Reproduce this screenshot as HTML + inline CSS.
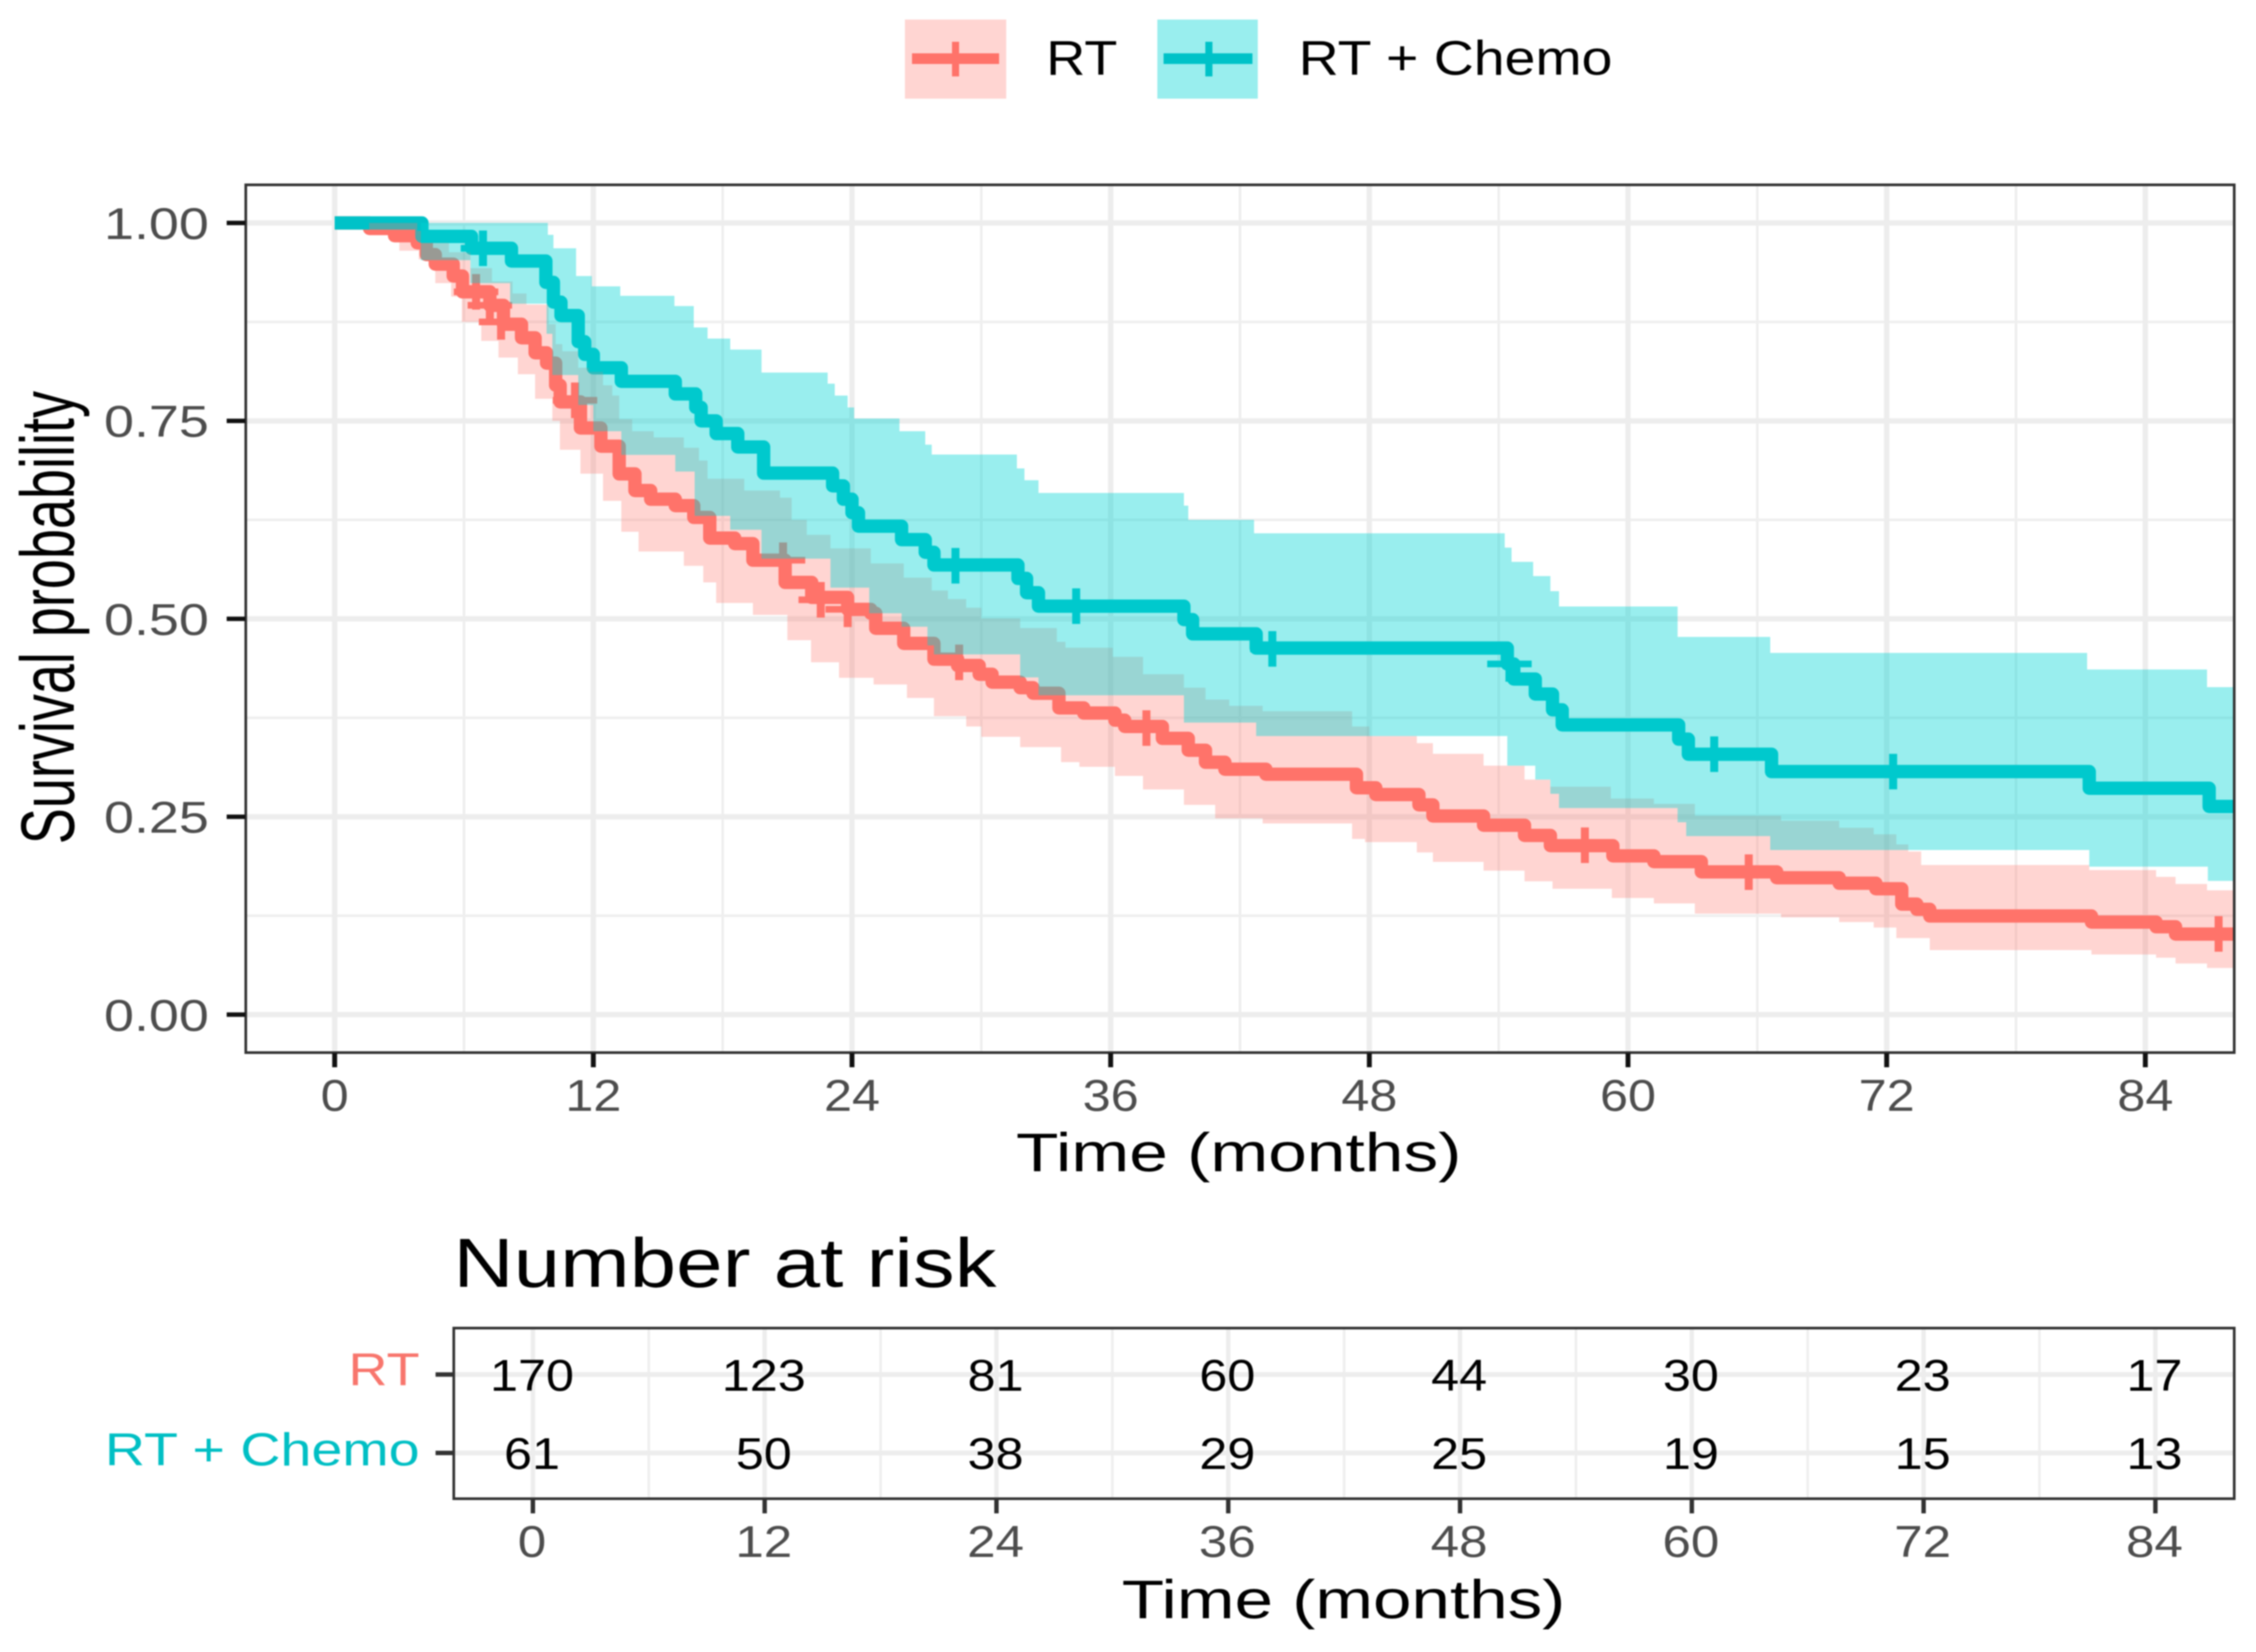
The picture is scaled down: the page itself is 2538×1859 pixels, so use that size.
<!DOCTYPE html>
<html lang="en">
<head>
<meta charset="utf-8">
<title>Survival curves: RT vs RT + Chemo</title>
<style>
html,body{margin:0;padding:0;background:#fff;}
svg{display:block;filter:blur(0.7px);}
text{font-family:"Liberation Sans",Arial,sans-serif;}
</style>
</head>
<body>
<svg id="figure" xmlns="http://www.w3.org/2000/svg" width="2538" height="1859" viewBox="0 0 2538 1859">
  <rect x="0" y="0" width="2538" height="1859" fill="#fff"/>
  <defs><clipPath id="panel-clip"><rect x="277" y="208" width="2236" height="976"/></clipPath></defs>

  <g>
    <g>
      <rect x="1018" y="22" width="114" height="89" fill="#FFD5D2"/>
      <rect x="1026" y="60" width="98" height="12" fill="#FF736A"/>
      <rect x="1071" y="47" width="8" height="39" fill="#FF736A"/>
      <text x="1177" y="84" font-size="55" fill="#000" textLength="80" lengthAdjust="spacingAndGlyphs">RT</text>
    </g>
    <g>
      <rect x="1302" y="22" width="113" height="89" fill="#99EEEE"/>
      <rect x="1309" y="60" width="100" height="12" fill="#00C2C8"/>
      <rect x="1356" y="47" width="8" height="39" fill="#00C2C8"/>
      <text x="1461" y="84" font-size="55" fill="#000" textLength="353" lengthAdjust="spacingAndGlyphs">RT + Chemo</text>
    </g>
  </g>

  <g id="survival-plot"></g>
  <text transform="translate(83,950) rotate(-90)" font-size="85" fill="#000" textLength="510" lengthAdjust="spacingAndGlyphs">Survival probability</text>
  <text x="1143" y="1318" font-size="61" fill="#000" textLength="501" lengthAdjust="spacingAndGlyphs">Time (months)</text>

  <text x="510" y="1448" font-size="78" fill="#000" textLength="611" lengthAdjust="spacingAndGlyphs">Number at risk</text>
  <g id="risk-table"></g>
  <text x="392" y="1559" font-size="52" fill="#F8766D" textLength="80" lengthAdjust="spacingAndGlyphs">RT</text>
  <text x="118" y="1649" font-size="52" fill="#00BFC4" textLength="354" lengthAdjust="spacingAndGlyphs">RT + Chemo</text>
  <text x="1262" y="1821" font-size="61" fill="#000" textLength="499" lengthAdjust="spacingAndGlyphs">Time (months)</text>
</svg>

<script>
// ---------- data ----------
const monthTicks = [0, 12, 24, 36, 48, 60, 72, 84];
const monthMinorTicks = [6, 18, 30, 42, 54, 66, 78];
const survTicks = [0, 0.25, 0.5, 0.75, 1];
const survTickLabels = ['0.00', '0.25', '0.50', '0.75', '1.00'];
const survMinorTicks = [0.125, 0.375, 0.625, 0.875];

const rtTimes = [0,1.62,2.78,3.83,4.25,4.67,5.5,5.93,7.2,7.83,8.67,9.3,9.83,10.25,10.46,11.4,12.35,13.2,13.93,14.66,15.8,16.66,17.4,18.56,19.4,20.9,22.13,23.8,24.87,25.1,26.4,27.8,28.9,29.9,30.5,31.8,32.4,33.6,34.75,36.2,36.65,38.4,39.6,40.4,41.3,43.2,47.4,48.3,50.3,50.95,53.3,55.2,56.4,59.3,61.2,63.4,66.9,69.8,71.5,72.7,73.4,74,81.5,84.5,85.4];
const rtSurv = [1,0.993,0.984,0.975,0.96,0.948,0.933,0.913,0.896,0.872,0.855,0.836,0.823,0.795,0.774,0.741,0.718,0.683,0.662,0.651,0.643,0.628,0.602,0.595,0.574,0.546,0.527,0.512,0.507,0.488,0.469,0.449,0.441,0.43,0.42,0.413,0.406,0.3875,0.381,0.372,0.364,0.349,0.334,0.3188,0.31,0.3037,0.2866,0.278,0.265,0.251,0.2393,0.2264,0.2135,0.2006,0.1933,0.1804,0.173,0.166,0.159,0.1396,0.133,0.1246,0.117,0.111,0.1018];
const rtUpperTimes = [0,3.83,4,5.3,6.3,7.3,8.25,8.9,9.93,10.25,10.56,11.3,11.8,12.45,12.88,13.2,13.8,14.8,16.2,16.9,17.3,19,20.66,21.2,21.9,23,24.87,26.4,27.7,28.45,29.3,30,31.8,33.5,33.9,36.1,37.5,39.4,40.4,41.5,43.05,47.2,48,50.2,50.95,53.3,55.2,56.4,59.2,61.2,63.1,67.1,69.8,71.4,72.45,73,73.6,81.4,84.5,85.4,86.86];
const rtUpperSurv = [1,0.99,0.975,0.963,0.943,0.926,0.911,0.897,0.872,0.847,0.838,0.817,0.812,0.795,0.782,0.752,0.737,0.729,0.716,0.7,0.677,0.662,0.653,0.625,0.606,0.589,0.57,0.552,0.5357,0.525,0.514,0.5005,0.4884,0.471,0.4635,0.452,0.43,0.413,0.398,0.39,0.3832,0.364,0.352,0.343,0.3295,0.3145,0.297,0.288,0.273,0.2663,0.2513,0.245,0.236,0.2277,0.215,0.206,0.189,0.1826,0.174,0.165,0.157];
const rtLowerTimes = [0,1.6,3,3.9,4.67,5.4,5.9,6.8,7.6,8.5,9.3,10.1,10.45,11.4,12.45,13.3,14.1,16.2,17.1,17.7,19.4,21,22.1,23.4,25,26.55,27.8,29.3,30,31.8,33.7,34.55,36.2,37.5,39.4,40.85,43.05,47.2,47.8,50.2,50.95,53.3,55.2,56.5,59.25,61.2,63.1,67.1,69.8,71.4,72.45,74,81.5,84.5,85.4,86.86];
const rtLowerSurv = [1,0.986,0.965,0.954,0.924,0.907,0.875,0.851,0.83,0.809,0.778,0.75,0.7135,0.6834,0.649,0.61,0.585,0.567,0.546,0.52,0.505,0.473,0.445,0.4255,0.417,0.4,0.377,0.364,0.351,0.338,0.319,0.313,0.3016,0.2844,0.265,0.248,0.2415,0.222,0.218,0.205,0.193,0.182,0.1684,0.159,0.1474,0.1405,0.1276,0.123,0.117,0.11,0.0967,0.0816,0.076,0.0718,0.0645,0.059];
const rtCensorTimes = [6.56,7.2,7.72,11.15,20.8,22.55,23.8,28.97,37.66,58,65.6,87.4];
const rtCensorSurv = [0.913,0.896,0.875,0.776,0.574,0.524,0.512,0.445,0.362,0.214,0.18,0.102];

const chemoTimes = [0,4.05,6.35,8.2,9.8,10.15,10.5,11.3,11.6,12,13.3,15.8,16.75,17,17.7,18.7,19.9,23.1,23.6,24,24.3,26.3,27.4,27.8,31.7,32.1,32.65,39.4,39.8,42.75,54.4,54.7,55.7,56.5,56.95,62.35,62.8,66.66,81.4,86.96];
const chemoSurv = [1,0.983,0.968,0.952,0.925,0.9,0.883,0.85,0.834,0.817,0.8,0.784,0.767,0.75,0.734,0.717,0.684,0.668,0.651,0.634,0.617,0.6,0.584,0.568,0.551,0.533,0.516,0.499,0.481,0.463,0.443,0.424,0.405,0.385,0.366,0.348,0.329,0.307,0.286,0.263];
const chemoUpperTimes = [4,9.89,10.15,11.2,11.93,13.25,15.76,16.66,17.3,18.35,19.8,22.87,23.2,23.8,24.1,26.2,27.4,27.7,31.65,32,32.65,39.4,39.6,42.65,54.28,54.6,55.6,56.4,56.8,62.3,66.6,81.3,86.86];
const chemoUpperSurv = [1,0.985,0.968,0.933,0.92,0.908,0.895,0.868,0.854,0.84,0.811,0.797,0.782,0.767,0.753,0.737,0.72,0.7075,0.69,0.675,0.659,0.643,0.625,0.608,0.59,0.572,0.554,0.535,0.5155,0.477,0.457,0.436,0.4137];
const chemoLowerTimes = [4,6.3,8.14,9.83,10.1,11.3,12,13.3,15.8,16.7,18.35,19.8,23,24.8,26.3,27.5,27.8,31.8,32.65,39.4,42.75,54.4,55.7,56.4,56.8,62.3,62.7,66.6,81.4,86.9];
const chemoLowerSurv = [0.953,0.924,0.898,0.86,0.808,0.77,0.737,0.707,0.686,0.63,0.6125,0.576,0.5395,0.507,0.49,0.4665,0.455,0.426,0.4034,0.369,0.352,0.3145,0.297,0.279,0.261,0.243,0.2255,0.208,0.187,0.169];
const chemoCensorTimes = [6.88,28.8,34.4,43.5,54.5,64,72.3];
const chemoCensorSurv = [0.968,0.567,0.516,0.462,0.443,0.329,0.307];

const riskRtCounts = [170,123,81,60,44,30,23,17];
const riskChemoCounts = [61,50,38,29,25,19,15,13];

// ---------- axes ----------
const xMaxMonth = 88.12;
function xScale(m) { return 376.5 + 24.25 * m; }
function yScale(s) { return 1141.8 - 890.9 * s; }
function riskX(m) { return 599.5 + 21.73 * m; }
const riskRtY = 1546.7;
const riskChemoY = 1635;

const NS = 'http://www.w3.org/2000/svg';
function make(tag, parent, props) {
  const e = document.createElementNS(NS, tag);
  for (const k in props) e.setAttribute(k, props[k]);
  parent.appendChild(e);
  return e;
}
function vLine(parent, x, y1, y2, color, w) {
  return make('line', parent, {x1: x, x2: x, y1: y1, y2: y2, stroke: color, 'stroke-width': w});
}
function hLine(parent, y, x1, x2, color, w) {
  return make('line', parent, {x1: x1, x2: x2, y1: y, y2: y, stroke: color, 'stroke-width': w});
}
function label(parent, str, x, y, size, color, anchor, len) {
  const t = make('text', parent, {x: x, y: y, 'font-size': size, fill: color, 'text-anchor': anchor, textLength: len, lengthAdjust: 'spacingAndGlyphs'});
  t.textContent = str;
  return t;
}
function stepPoints(times, values, endMonth) {
  const pts = [];
  for (let i = 0; i < times.length; i++) {
    if (i > 0) pts.push([xScale(times[i]), yScale(values[i - 1])]);
    pts.push([xScale(times[i]), yScale(values[i])]);
  }
  pts.push([xScale(endMonth), yScale(values[values.length - 1])]);
  return pts;
}
function toD(pts) {
  return pts.map((p, i) => (i ? 'L' : 'M') + p[0].toFixed(1) + ' ' + p[1].toFixed(1)).join('');
}

// ---------- survival plot ----------
const plot = document.getElementById('survival-plot');
const panelBg = make('rect', plot, {x: 277, y: 208, width: 2236, height: 976, fill: '#fff'});



const grid = make('g', plot, {});


survMinorTicks.forEach(s => {
  const l = hLine(grid, yScale(s), 277, 2513, '#EFEFEF', 3);
  
  
});
monthMinorTicks.forEach(m => {
  const l = vLine(grid, xScale(m), 208, 1184, '#EFEFEF', 3);
  
  
});
survTicks.forEach(s => {
  const l = hLine(grid, yScale(s), 277, 2513, '#EDEDED', 6);
  
  
});
monthTicks.forEach(m => {
  const l = vLine(grid, xScale(m), 208, 1184, '#EDEDED', 6);
  
  
});

const clipped = make('g', plot, {'clip-path': 'url(#panel-clip)'});



function drawLine(times, values, color, name) {
  const p = make('path', clipped, {d: toD(stepPoints(times, values, xMaxMonth)), fill: 'none', stroke: color, 'stroke-width': 15, 'stroke-linejoin': 'round'});
  
  
}
function drawCensors(times, values, color, name) {
  times.forEach((t, i) => {
    const x = xScale(t), y = yScale(values[i]);
    const v = make('rect', clipped, {x: x - 4.5, y: y - 20, width: 9, height: 40, fill: color});
    
    
    const h = make('rect', clipped, {x: x - 25, y: y - 3.75, width: 50, height: 7.5, fill: color});
    
    
  });
}
function drawRibbon(upT, upS, loT, loS, color, alpha, name) {
  const top = stepPoints(upT, upS, xMaxMonth);
  const bottom = stepPoints(loT, loS, xMaxMonth).reverse();
  const r = make('path', clipped, {d: toD(top.concat(bottom)) + 'Z', fill: color, 'fill-opacity': alpha});
  
  
}
drawLine(rtTimes, rtSurv, '#FF736A', 'survival-line-rt');
drawCensors(rtCensorTimes, rtCensorSurv, '#FF736A', 'censor-mark-rt');
drawLine(chemoTimes, chemoSurv, '#00C2C8', 'survival-line-rt-chemo');
drawCensors(chemoCensorTimes, chemoCensorSurv, '#00C2C8', 'censor-mark-rt-chemo');
drawRibbon(rtUpperTimes, rtUpperSurv, rtLowerTimes, rtLowerSurv, '#FF736A', 0.3, 'confidence-band-rt');
drawRibbon(chemoUpperTimes, chemoUpperSurv, chemoLowerTimes, chemoLowerSurv, '#00D5D5', 0.4, 'confidence-band-rt-chemo');

const border = make('rect', plot, {x: 276.5, y: 208, width: 2237, height: 976.5, fill: 'none', stroke: '#333', 'stroke-width': 3});



survTicks.forEach((s, i) => {
  const tick = hLine(plot, yScale(s), 255, 276, '#111', 5);
  
  
  const txt = label(plot, survTickLabels[i], 235, yScale(s) + 18, 50, '#4D4D4D', 'end', 118);
  
  
});
monthTicks.forEach(m => {
  const tick = vLine(plot, xScale(m), 1185, 1201, '#111', 5.5);
  
  
  const str = String(m);
  const txt = label(plot, str, xScale(m), 1250, 50, '#4D4D4D', 'middle', str.length * 31.5);
  
  
});

// ---------- risk table ----------
const table = document.getElementById('risk-table');
monthMinorTicks.forEach(m => {
  const l = vLine(table, riskX(m), 1495, 1686, '#EFEFEF', 3);
  
  
});
[riskRtY, riskChemoY].forEach(y => {
  const l = hLine(table, y, 510, 2513, '#EDEDED', 5.5);
  
  
});
monthTicks.forEach(m => {
  const l = vLine(table, riskX(m), 1495, 1686, '#EDEDED', 5);
  
  
});
const tableBorder = make('rect', table, {x: 510.5, y: 1494.5, width: 2003, height: 192, fill: 'none', stroke: '#333', 'stroke-width': 3});



[riskRtY, riskChemoY].forEach(y => {
  const tick = hLine(table, y, 490, 510, '#333', 5);
  
  
});
monthTicks.forEach((m, i) => {
  const tick = vLine(table, riskX(m), 1687, 1703, '#333', 5);
  
  
  const str = String(m);
  const tl = label(table, str, riskX(m) - 1, 1752, 50, '#4D4D4D', 'middle', str.length * 32);
  
  
  const a = String(riskRtCounts[i]);
  const ta = label(table, a, riskX(m) - 1, 1565, 50, '#000', 'middle', a.length * 31.5);
  
  
  const b = String(riskChemoCounts[i]);
  const tb = label(table, b, riskX(m) - 1, 1653, 50, '#000', 'middle', b.length * 31.5);
  
  
});
</script>
</body>
</html>
